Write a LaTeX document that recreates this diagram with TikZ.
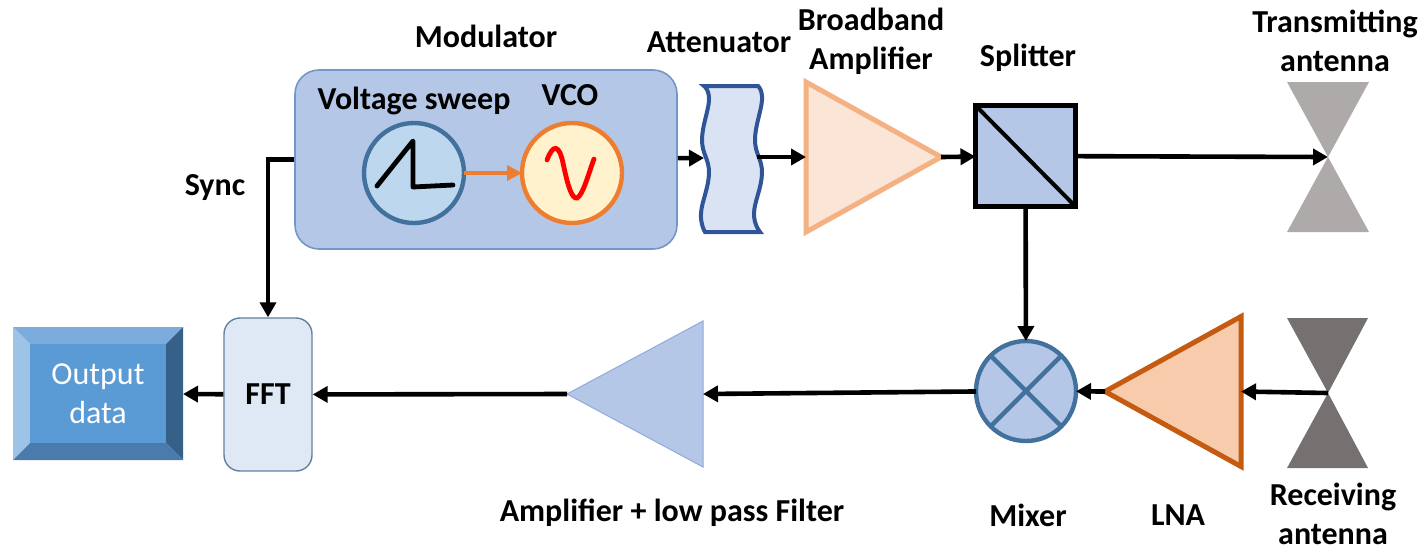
\documentclass[tikz,border=0pt]{standalone}
\usepackage{xcolor}
\usepackage{fontspec}
\setmainfont{Carlito}
\usetikzlibrary{positioning,arrows.meta,shapes.geometric}
\definecolor{modfill}{HTML}{B4C7E7}
\definecolor{modline}{HTML}{7397C4}
\definecolor{steel}{HTML}{41719C}
\definecolor{sweepfill}{HTML}{BDD7EE}
\definecolor{vcofill}{HTML}{FFF2CC}
\definecolor{vcoline}{HTML}{ED7D31}
\definecolor{attfill}{HTML}{DAE3F3}
\definecolor{attline}{HTML}{2F5597}
\definecolor{ampfill}{HTML}{FBE5D6}
\definecolor{ampline}{HTML}{F4B183}
\definecolor{lnafill}{HTML}{F8CBAD}
\definecolor{lnaline}{HTML}{C55A11}
\definecolor{txgrey}{HTML}{AEAAAA}
\definecolor{rxgrey}{HTML}{767171}
\definecolor{fftfill}{HTML}{DEE9F5}
\definecolor{fftline}{HTML}{65809B}
\definecolor{lpfline}{HTML}{8FAADC}
\definecolor{outcore}{HTML}{5B9BD5}
\definecolor{outtop}{HTML}{7CACDD}
\definecolor{outleft}{HTML}{9DC3E6}
\definecolor{outright}{HTML}{376089}
\definecolor{outbot}{HTML}{4A7BAC}

\begin{document}
\begin{tikzpicture}[x=.5pt,y=-.5pt,font=\fontsize{16}{19.5}\selectfont\bfseries,
     lbl/.style={inner sep=0,align=center,text=black},
     sig/.style={black,line width=2.3pt,-{Triangle[length=7.5pt,width=8pt]}},
     amptri/.style={isosceles triangle,isosceles triangle stretches,anchor=lower side,inner sep=0,outer sep=0,miter limit=10},
     dial/.style={circle,minimum size=50pt,inner sep=0,outer sep=0,line width=2.2pt}]
    \useasboundingbox (0,0) rectangle (1422,547);
    % transmit path
    \node[draw=modline,fill=modfill,line width=.8pt,rounded corners=12pt,minimum width=191pt,minimum height=89.5pt,inner sep=0](mod) at (486,159.5){};
    \node[dial,draw=steel,fill=sweepfill](sweep) at (414,173){};
    \node[dial,draw=vcoline,fill=vcofill](vco) at (572,173){};
    \draw[black,line width=2.4pt,line join=round,line cap=round] (377,186)--(413,141)--(413,187)--(453,185);
    \draw[red,line width=2.4pt,line cap=round] (547,160) .. controls (553,144) and (559,144) .. (563,163) .. controls (568,187) and (572,199) .. (577,198) .. controls (583,195) and (588,175) .. (594,159);
    \draw[vcoline,line width=1.8pt,-{Triangle[length=7.5pt,width=7.5pt]}] (sweep)--(vco);
    \draw[attline,fill=attfill,line width=2pt] plot[smooth,tension=.7] coordinates {(704,86)(709,100)(702,140)(709,173)(701,213)(705,232)} -- plot[smooth,tension=.7] coordinates {(760,232)(754,213)(762,173)(755,140)(762,100)(758,86)} -- cycle;
    \coordinate (attin) at (704,158); \coordinate (attout) at (757,157);
    \node[amptri,draw=ampline,fill=ampfill,line width=2.5pt,minimum width=75pt,minimum height=67.5pt](amp) at (806,157){};
    \node[draw=black,fill=modfill,line width=2.2pt,minimum width=50pt,minimum height=50.5pt,inner sep=0,outer sep=0](split) at (1025.5,156){};
    \draw[black,line width=2pt] (split.north west)--(split.south east);
    \fill[txgrey] (1287,82)--(1369,82)--(1328,157)--(1369,232)--(1287,232)--(1328,157)--cycle;
    \coordinate (txant) at (1328,157);
    % receive path
    \fill[rxgrey] (1287,318)--(1368,318)--(1328,393)--(1368,468)--(1287,468)--(1328,393)--cycle;
    \coordinate (rxant) at (1328,393);
    \node[amptri,shape border rotate=180,draw=lnaline,fill=lnafill,line width=2.5pt,minimum width=75pt,minimum height=68pt](lna) at (1241,391.5){};
    \node[dial,draw=steel,fill=modfill](mix) at (1026,391){};
    \draw[steel,line width=2.2pt] (mix.45)--(mix.225) (mix.135)--(mix.315);
    \node[amptri,shape border rotate=180,draw=lpfline,fill=modfill,line width=.5pt,minimum width=73pt,minimum height=68pt](lpf) at (703,394){};
    \node[draw=fftline,fill=fftfill,line width=.7pt,rounded corners=8pt,minimum width=44pt,minimum height=76.5pt,inner sep=0](fft) at (268,394.5){FFT};
    % output block
    \fill[outtop] (13,327)--(183,327)--(166,344)--(30,344)--cycle;
    \fill[outleft] (13,327)--(30,344)--(30,443)--(13,460)--cycle;
    \fill[outright] (183,327)--(166,344)--(166,443)--(183,460)--cycle;
    \fill[outbot] (13,460)--(30,443)--(166,443)--(183,460)--cycle;
    \node[fill=outcore,minimum width=68pt,minimum height=49.5pt,inner sep=0,outer sep=0,align=center,text=white,font=\fontsize{16}{19.5}\selectfont\mdseries](out) at (98,393.5){Output\\data};
    \coordinate (outedge) at (183,394);
    % connectors
    \foreach \i/\j in {mod/attin,attout/amp.lower side,amp.apex/split,split/txant,split/mix,rxant/lna.lower side,lna.apex/mix,mix/lpf.lower side,lpf.apex/fft,fft/outedge}{\draw[sig](\i)--(\j);}
    \draw[sig](mod.west)-|(fft.north);
    % labels
    \node[lbl](tmod) at (486,36){Modulator};       \node[lbl](tatt) at (719,42){Attenuator};
    \node[lbl](tamp) at (871,41){Broadband\\Amplifier}; \node[lbl](tsplit) at (1028,58){Splitter};
    \node[lbl](ttx) at (1335,41){Transmitting\\antenna};
    \node[lbl](tsweep) at (414,101){Voltage sweep}; \node[lbl](tvco) at (570,95){VCO};
    \node[lbl](tsync) at (215,188){Sync};
    \node[lbl](tlpf) at (672,513){Amplifier + low pass Filter};
    \node[lbl](tmix) at (1028,515){Mixer};         \node[lbl](tlna) at (1178,515){LNA};
    \node[lbl](trx) at (1333,514){Receiving\\antenna};
  \end{tikzpicture}
\end{document}
